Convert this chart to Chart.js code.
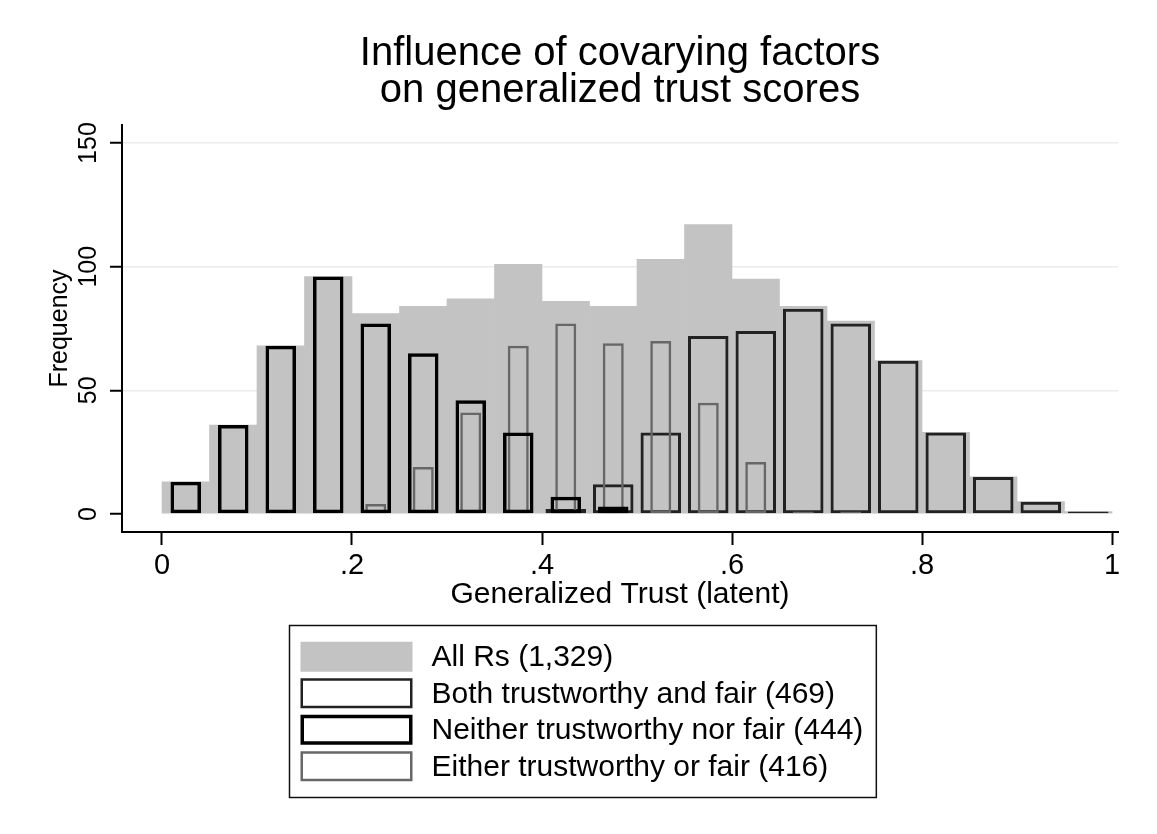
<!DOCTYPE html>
<html>
<head>
<meta charset="utf-8">
<title>Influence of covarying factors on generalized trust scores</title>
<script src="https://cdn.jsdelivr.net/npm/chart.js@4"></script>
<style>
  html, body { margin: 0; padding: 0; background: #fff; }
  canvas { display: block; }
</style>
</head>
<body>
<canvas id="trustChart" width="1157" height="834"></canvas>
<script>
// histogram bins of width .05 (midpoints)
const binMids = [0.025, 0.075, 0.125, 0.175, 0.225, 0.275, 0.325, 0.375, 0.425, 0.475,
                 0.525, 0.575, 0.625, 0.675, 0.725, 0.775, 0.825, 0.875, 0.925, 0.975];

// frequencies
const allRs   = [13, 36, 68, 96, 81, 84, 87, 101, 86, 84, 103, 117, 95, 84, 78, 62, 33, 15, 5, 1];
const both    = [0, 0, 0, 0, 0, 0, 0, 0, 2, 12, 33, 72, 74, 83, 77, 62, 33, 15, 5, 1];
const neither = [13, 36, 68, 96, 77, 65, 46, 33, 7, 3, 0, 0, 0, 0, 0, 0, 0, 0, 0, 0];
const either  = [0, 0, 0, 0, 4, 19, 41, 68, 77, 69, 70, 45, 21, 1, 1, 0, 0, 0, 0, 0];

const seriesLabels = [
    "All Rs (1,329)",
    "Both trustworthy and fair (469)",
    "Neither trustworthy nor fair (444)",
    "Either trustworthy or fair (416)"
];

const xTicks = [0, 0.2, 0.4, 0.6, 0.8, 1];
const xTickLabels = ["0", ".2", ".4", ".6", ".8", "1"];
const yTicks = [0, 50, 100, 150];

const FONT = "'Liberation Sans', Arial, Helvetica, sans-serif";
Chart.defaults.font.family = FONT;
Chart.defaults.color = "#000";

function toPoints(values) {
    return values.map((v, i) => ({ x: binMids[i], y: v }));
}

// Stata-style legend: one column, boxed, under the x axis title
const boxedLegend = {
    id: "boxedLegend",
    afterDraw(chart) {
        const ctx = chart.ctx;
        const sets = chart.data.datasets;
        const fontSize = 30;
        const rowH = 36.5, swW = 112, swH = 30;
        const padL = 11, gap = 19, padR = 13, padV = 13;

        ctx.save();
        ctx.font = fontSize + "px " + FONT;
        const textW = Math.max(...sets.map(d => ctx.measureText(d.label).width));
        const boxW = padL + swW + gap + textW + padR;
        const boxH = padV * 2 + rowH * sets.length;
        const left = Math.round((chart.width - boxW) / 2) + 4.5;
        const top = Math.round(chart.scales.x.bottom + 9) + 0.5;

        ctx.strokeStyle = "#111";
        ctx.lineWidth = 1.5;
        ctx.strokeRect(left, top, boxW, boxH);

        sets.forEach((d, i) => {
            const cy = top + padV + rowH * i + rowH / 2;
            const sx = left + padL;
            const sy = cy - swH / 2;
            if (d.borderWidth === 0) {
                ctx.fillStyle = d.backgroundColor;
                ctx.fillRect(sx, sy, swW, swH);
            } else {
                const lw = d.legendLineWidth;
                ctx.fillStyle = "#fff";
                ctx.fillRect(sx, sy, swW, swH);
                ctx.strokeStyle = d.borderColor;
                ctx.lineWidth = lw;
                ctx.strokeRect(sx + lw / 2, sy + lw / 2, swW - lw, swH - lw);
            }
            ctx.fillStyle = "#000";
            ctx.textAlign = "left";
            ctx.textBaseline = "middle";
            ctx.fillText(d.label, sx + swW + gap, cy + 1);
        });
        ctx.restore();
    }
};

const ctx = document.getElementById("trustChart");

new Chart(ctx, {
    type: "bar",
    data: {
        datasets: [
            {
                label: seriesLabels[0],
                data: toPoints(allRs),
                backgroundColor: "#c3c3c3",
                borderWidth: 0,
                grouped: false,
                categoryPercentage: 1,
                barPercentage: 1,
                order: 10
            },
            {
                label: seriesLabels[1],
                data: toPoints(both),
                backgroundColor: "rgba(0,0,0,0)",
                borderColor: "#222",
                borderWidth: 3,
                legendLineWidth: 2.5,
                borderSkipped: false,
                grouped: false,
                categoryPercentage: 1,
                barPercentage: 0.853,
                order: 3
            },
            {
                label: seriesLabels[2],
                data: toPoints(neither),
                backgroundColor: "rgba(0,0,0,0)",
                borderColor: "#000",
                borderWidth: 3.5,
                legendLineWidth: 3.5,
                borderSkipped: false,
                grouped: false,
                categoryPercentage: 1,
                barPercentage: 0.642,
                order: 1
            },
            {
                label: seriesLabels[3],
                data: toPoints(either),
                backgroundColor: "rgba(0,0,0,0)",
                borderColor: "#676767",
                borderWidth: 2.5,
                legendLineWidth: 2.5,
                borderSkipped: false,
                grouped: false,
                categoryPercentage: 1,
                barPercentage: 0.442,
                order: 2
            }
        ]
    },
    options: {
        responsive: false,
        animation: false,
        layout: {
            padding: { top: 0, left: 0, right: 39, bottom: 218 }
        },
        plugins: {
            legend: { display: false },
            tooltip: { enabled: false },
            title: {
                display: true,
                fullSize: false,
                text: ["Influence of covarying factors", "on generalized trust scores"],
                color: "#000",
                font: { size: 40, weight: "normal", lineHeight: 0.925 },
                padding: { top: 35.5, bottom: 15.5 }
            }
        },
        scales: {
            x: {
                type: "linear",
                offset: false,
                min: -0.0421,
                max: 1.0063,
                afterBuildTicks: scale => {
                    scale.ticks = xTicks.map(v => ({ value: v }));
                },
                afterFit: scale => {
                    scale.height = 84;
                },
                ticks: {
                    font: { size: 29 },
                    padding: 4,
                    maxRotation: 0,
                    callback: (value, index) => xTickLabels[index]
                },
                grid: {
                    offset: false,
                    drawOnChartArea: false,
                    drawTicks: true,
                    tickLength: 13,
                    tickColor: "#000",
                    tickWidth: 2
                },
                border: { display: true, color: "#000", width: 2 },
                title: {
                    display: true,
                    text: "Generalized Trust (latent)",
                    font: { size: 30 },
                    padding: { top: 0, bottom: 3 }
                }
            },
            y: {
                type: "linear",
                min: -7.28,
                max: 157.3,
                afterBuildTicks: scale => {
                    scale.ticks = yTicks.map(v => ({ value: v }));
                },
                afterFit: scale => {
                    scale.width = 122;
                },
                ticks: {
                    font: { size: 25 },
                    padding: 0,
                    minRotation: 90,
                    maxRotation: 90,
                    crossAlign: "center",
                    callback: value => String(value)
                },
                grid: {
                    color: c => (c.tick && c.tick.value === 0) ? "rgba(0,0,0,0)" : "rgba(0,0,0,0.08)",
                    dash: [1, 5],
                    borderDash: [1, 5],
                    lineWidth: 1.5,
                    drawTicks: true,
                    tickLength: 12,
                    tickColor: "#000",
                    tickWidth: 2,
                    tickBorderDash: []
                },
                border: { display: true, color: "#000", width: 2 },
                title: {
                    display: true,
                    text: "Frequency",
                    font: { size: 25 },
                    padding: { top: 45, bottom: 0 }
                }
            }
        }
    },
    plugins: [boxedLegend]
});
</script>
</body>
</html>
